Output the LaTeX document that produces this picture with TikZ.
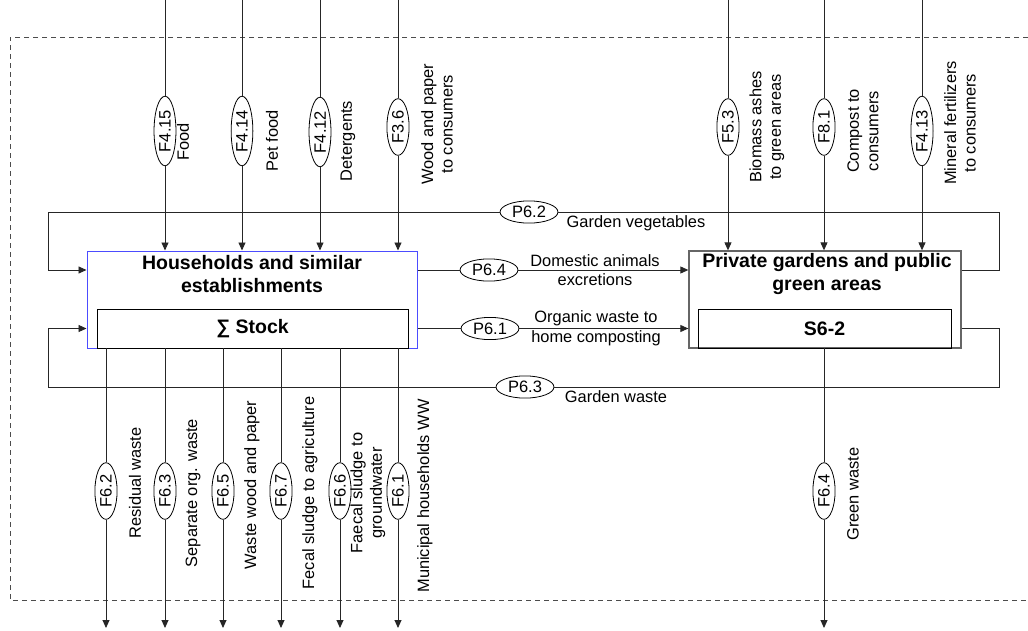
\documentclass[tikz,border=0pt]{standalone}
\usepackage{fontspec}
\setmainfont{Liberation Sans}
\usetikzlibrary{arrows.meta,shapes.geometric}
\begin{document}
\begin{tikzpicture}[x=1pt,y=-1pt,
  flow/.style={draw=black!85,line width=0.9pt},
  arr/.style={flow,-{Triangle[length=8pt,width=7pt]}},
  tag/.style={ellipse,draw=black,line width=0.8pt,fill=white,inner xsep=3.5pt,inner ysep=2pt,font=\fontsize{16.5}{19}\selectfont},
  vtag/.style={tag,rotate=90},
  lab/.style={font=\fontsize{16.4}{19.5}\selectfont,align=center,inner sep=0pt},
  vlab/.style={lab,rotate=90},
  ttl/.style={font=\bfseries\fontsize{19.5}{23}\selectfont,align=center,inner sep=0pt},
  boundary/.style={draw=black!70,line width=0.9pt,dash pattern=on 5pt off 4pt},
]
\useasboundingbox (0,0) rectangle (1028,630);

% system boundary
\draw[boundary] (1028,37) -- (10,37) -- (10,600) -- (1028,600);

% processes
\node[draw=blue!70!white,line width=1pt,minimum width=330pt,minimum height=97pt,inner sep=0pt] (hh) at (252,299.5) {};
\node[draw=black,line width=0.9pt,minimum width=311pt,minimum height=39pt,inner sep=0pt,font=\bfseries\fontsize{19.5}{23}\selectfont] (st) at (252.5,328.5) {∑ Stock};
\node[ttl] (hht) at (252,274) {Households and similar\\establishments};

\node[draw=black!60,line width=1.3pt,minimum width=272pt,minimum height=97pt,inner sep=0pt] (gb) at (825,299.5) {};
\node[draw=black,line width=0.9pt,minimum width=253pt,minimum height=39pt,inner sep=0pt,font=\bfseries\fontsize{19.5}{23}\selectfont] (sg) at (824.5,328.5) {S6-2};
\node[ttl] (gbt) at (827,274) {Private gardens and public\\green areas};

% helper coordinates
\coordinate (rx) at (999,0);
\coordinate (lx) at (48,0);

% inputs households
\coordinate (a1) at (165,0);
\coordinate (a2) at (242,0);
\coordinate (a3) at (320,0);
\coordinate (a4) at (398,0);
\node[vtag] (f415) at (165,131) {F4.15};
\node[vtag] (f414) at (242,131) {F4.14};
\node[vtag] (f412) at (320,132) {F4.12};
\node[vtag] (f36) at (398,127) {F3.6};
\draw[flow] (a1) -- (f415); \draw[arr] (f415) -- (f415 |- hh.north);
\draw[flow] (a2) -- (f414); \draw[arr] (f414) -- (f414 |- hh.north);
\draw[flow] (a3) -- (f412); \draw[arr] (f412) -- (f412 |- hh.north);
\draw[flow] (a4) -- (f36); \draw[arr] (f36) -- (f36 |- hh.north);
\node[vlab] (lfood) at (183,142) {Food};
\node[vlab] (lpet) at (272,141) {Pet food};
\node[vlab] (ldet) at (348,141) {Detergents};
\node[vlab] (lwood) at (437,124) {Wood and paper\\to consumers};

% inputs gardens
\coordinate (a5) at (728,0);
\coordinate (a6) at (824,0);
\coordinate (a7) at (922,0);
\node[vtag] (f53) at (728,127) {F5.3};
\node[vtag] (f81) at (824,127) {F8.1};
\node[vtag] (f413) at (922,131) {F4.13};
\draw[flow] (a5) -- (f53); \draw[arr] (f53) -- (f53 |- gb.north);
\draw[flow] (a6) -- (f81); \draw[arr] (f81) -- (f81 |- gb.north);
\draw[flow] (a7) -- (f413); \draw[arr] (f413) -- (f413 |- gb.north);
\node[vlab] (lbio) at (767,127) {Biomass ashes\\to green areas};
\node[vlab] (lcomp) at (863,131) {Compost to\\consumers};
\node[vlab] (lmin) at (960,123) {Mineral fertilizers\\to consumers};

% flows between processes
\node[tag] (p64) at (489,270) {P6.4};
\draw[flow] (hh.east |- p64) -- (p64); \draw[arr] (p64) -- (gb.west |- p64);
\node[lab] (l64) at (595,270) {Domestic animals\\excretions};

\node[tag] (p61) at (490,328.5) {P6.1};
\draw[flow] (hh.east |- p61) -- (p61); \draw[arr] (p61) -- (gb.west |- p61);
\node[lab] (l61) at (596,328.5) {Organic waste to\\home composting};

\node[tag] (p62) at (529,212) {P6.2};
\draw[flow] (gb.east |- p64) -- (rx |- p64) -- (rx |- p62) -- (p62);
\draw[arr] (p62) -- (lx |- p62) -- (lx |- p64) -- (hh.west |- p64);
\node[lab] (l62) at (636,223) {Garden vegetables};

\node[tag] (p63) at (525,387) {P6.3};
\draw[flow] (gb.east |- p61) -- (rx |- p61) -- (rx |- p63) -- (p63);
\draw[arr] (p63) -- (lx |- p63) -- (lx |- p61) -- (hh.west |- p61);
\node[lab] (l63) at (616,397) {Garden waste};

% outputs households
\node[vtag] (f62) at (106,491) {F6.2};
\node[vtag] (f63) at (165,491) {F6.3};
\node[vtag] (f65) at (223,491) {F6.5};
\node[vtag] (f67) at (281,491) {F6.7};
\node[vtag] (f66) at (340,491) {F6.6};
\node[vtag] (f61) at (398,491) {F6.1};
\coordinate (b1) at (106,628);
\coordinate (b2) at (165,628);
\coordinate (b3) at (223,628);
\coordinate (b4) at (281,628);
\coordinate (b5) at (340,628);
\coordinate (b6) at (398,628);
\draw[flow] (f62 |- st.south) -- (f62); \draw[arr] (f62) -- (b1);
\draw[flow] (f63 |- st.south) -- (f63); \draw[arr] (f63) -- (b2);
\draw[flow] (f65 |- st.south) -- (f65); \draw[arr] (f65) -- (b3);
\draw[flow] (f67 |- st.south) -- (f67); \draw[arr] (f67) -- (b4);
\draw[flow] (f66 |- st.south) -- (f66); \draw[arr] (f66) -- (b5);
\draw[flow] (f61 |- st.south) -- (f61); \draw[arr] (f61) -- (b6);
\node[vlab] (lres) at (135,483) {Residual waste};
\node[vlab] (lsep) at (193,493) {Separate org. waste};
\node[vlab] (lwwp) at (252,485) {Waste wood and paper};
\node[vlab] (lfec) at (310,493) {Fecal sludge to agriculture};
\node[vlab] (lfae) at (368,493) {Faecal sludge to\\groundwater};
\node[vlab] (lmun) at (425,496) {Municipal households WW};

% output gardens
\node[vtag] (f64) at (824,491) {F6.4};
\coordinate (b7) at (824,628);
\draw[flow] (f64 |- sg.south) -- (f64); \draw[arr] (f64) -- (b7);
\node[vlab] (lgreen) at (853,494) {Green waste};

\end{tikzpicture}
\end{document}
